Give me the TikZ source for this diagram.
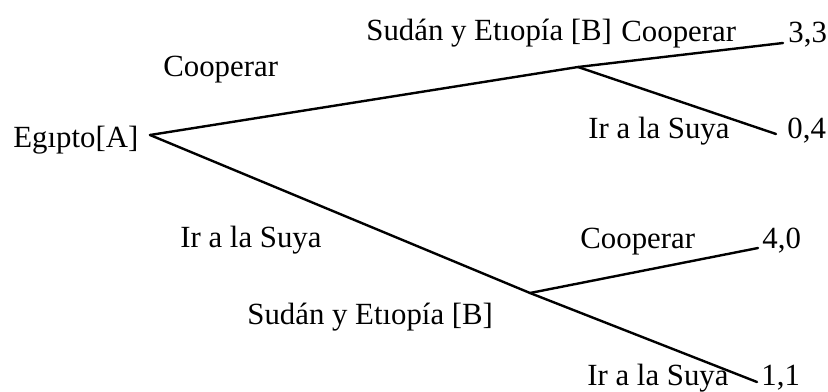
\documentclass[tikz,border=0pt]{standalone}
\usepackage{fontspec}
\setmainfont{Liberation Serif}
\begin{document}
\begin{tikzpicture}[x=0.5pt,y=-0.5pt,
  lab/.style={anchor=base west,inner sep=0pt,font=\fontsize{15.4}{18}\selectfont},
  branch/.style={line width=1.2pt,line cap=round}]
  \useasboundingbox (0,0) rectangle (828,391);
  % decision points and branch ends
  \coordinate (A) at (150,135);
  \coordinate (B1) at (578,67);
  \coordinate (B2) at (530,293);
  \coordinate (e33) at (783,43);
  \coordinate (e04) at (776,134);
  \coordinate (e40) at (758,248);
  \coordinate (e11) at (757,382);
  \draw[branch] (A) -- (B1) -- (e33);
  \draw[branch] (B1) -- (e04);
  \draw[branch] (A) -- (B2) -- (e40);
  \draw[branch] (B2) -- (e11);
  % players and moves
  \node[lab] (egipto) at (13,147) {Egıpto[A]};
  \node[lab] (coopA) at (163,76) {Cooperar};
  \node[lab] (suyaA) at (180,247) {Ir a la Suya};
  \node[lab] (sudanU) at (366,40) {Sudán y Etıopía [B]};
  \node[lab] (coopU) at (621,41) {Cooperar};
  \node[lab] (suyaU) at (588,138) {Ir a la Suya};
  \node[lab] (sudanL) at (247,324) {Sudán y Etıopía [B]};
  \node[lab] (coopL) at (580,248) {Cooperar};
  \node[lab] (suyaL) at (587,385) {Ir a la Suya};
  % payoffs
  \foreach \n/\x/\y/\t in {p33/788/42/{3,3}, p04/787/138/{0,4}, p40/762/248/{4,0}, p11/761/385/{1,1}}
    \node[lab] (\n) at (\x,\y) {\t};
\end{tikzpicture}
\end{document}
